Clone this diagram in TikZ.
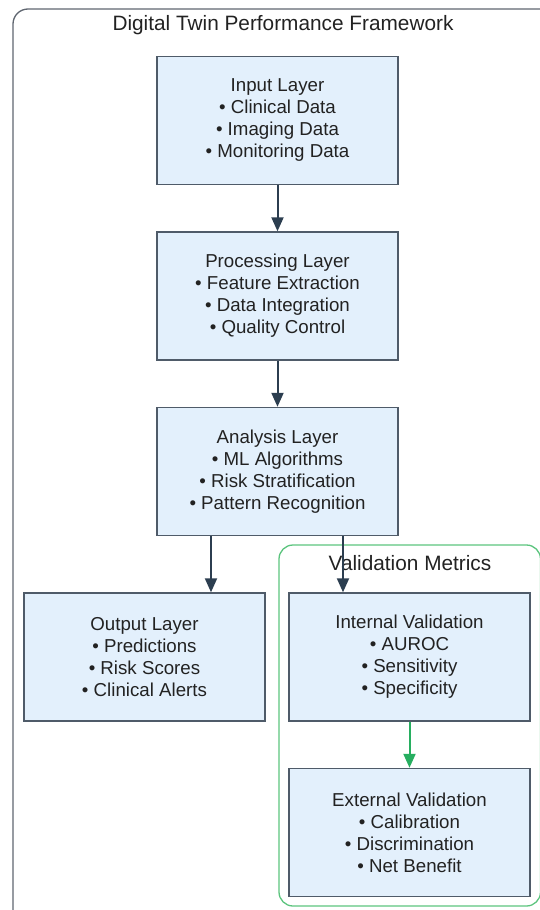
\documentclass[tikz,border=0pt]{standalone}
\usepackage{fontspec}
\setmainfont{Liberation Sans}
\usetikzlibrary{arrows.meta}
\definecolor{boxfill}{HTML}{E3F0FC}
\definecolor{boxline}{HTML}{4F5B69}
\definecolor{arrowc}{HTML}{2C3E50}
\definecolor{greenc}{HTML}{27AE60}
\definecolor{greenframe}{HTML}{5CC47E}
\definecolor{outerc}{HTML}{5F6670}
\definecolor{textc}{HTML}{222222}
\tikzset{
  layerbox/.style={draw=boxline, line width=1.4pt, fill=boxfill, minimum width=241pt, minimum height=128pt,
    inner sep=0pt, align=center, text=textc, font=\fontsize{18.7}{22}\selectfont},
  arr/.style={draw=arrowc, line width=2pt, -{Triangle[length=14pt,width=12pt]}},
  garr/.style={draw=greenc, line width=2pt, -{Triangle[length=14pt,width=12pt]}},
  titletext/.style={text=textc, font=\fontsize{20.8}{24}\selectfont}
}
\begin{document}
\begin{tikzpicture}[x=1pt,y=-1pt]
\useasboundingbox (0,0) rectangle (540,910);
\clip (0,0) rectangle (540,910);
\draw[outerc, line width=1.3pt, rounded corners=15pt] (13,9) rectangle (570,940);
\node[titletext] (title) at (283,25) {Digital Twin Performance Framework};
\draw[greenframe, line width=1.3pt, rounded corners=14pt] (279,545) rectangle (540.5,906);
\node[titletext] (vtitle) at (410,563) {Validation Metrics};

\node[layerbox] (input) at (277.5,120.5) {Input Layer\\• Clinical Data\\• Imaging Data\\• Monitoring Data};
\node[layerbox] (proc) at (277.5,296) {Processing Layer\\• Feature Extraction\\• Data Integration\\• Quality Control};
\node[layerbox] (anal) at (277.5,471.5) {Analysis Layer\\• ML Algorithms\\• Risk Stratification\\• Pattern Recognition};
\node[layerbox] (out) at (144.5,657) {Output Layer\\• Predictions\\• Risk Scores\\• Clinical Alerts};
\node[layerbox] (intv) at (409.5,657) {Internal Validation\\• AUROC\\• Sensitivity\\• Specificity};
\node[layerbox] (extv) at (409.5,832.5) {External Validation\\• Calibration\\• Discrimination\\• Net Benefit};

\draw[arr] (input.south) -- (proc.north);
\draw[arr] (proc.south) -- (anal.north);
\draw[arr] ([xshift=-66.5pt]anal.south) -- ([xshift=66.5pt]out.north);
\draw[arr] ([xshift=65.5pt]anal.south) -- ([xshift=-66.5pt]intv.north);
\draw[garr] (intv.south) -- (extv.north);
\end{tikzpicture}
\end{document}
